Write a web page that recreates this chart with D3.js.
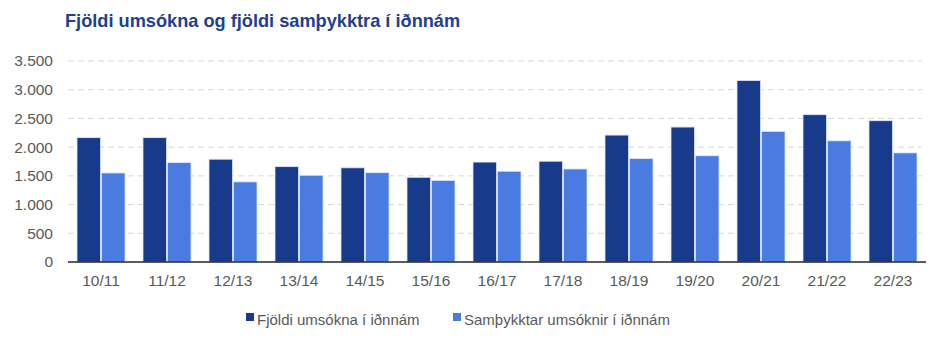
<!DOCTYPE html>
<html>
<head>
<meta charset="utf-8">
<script src="https://cdn.jsdelivr.net/npm/d3@7"></script>
<style>
  body { margin: 0; background: #fff; }
  svg { display: block; font-family: "Liberation Sans", Arial, sans-serif; }
</style>
</head>
<body>
<svg id="chart" width="949" height="346"></svg>
<script>
const categories = ['10/11', '11/12', '12/13', '13/14', '14/15', '15/16', '16/17', '17/18', '18/19', '19/20', '20/21', '21/22', '22/23'];
const applications = [2165, 2165, 1790, 1660, 1640, 1475, 1740, 1755, 2210, 2350, 3160, 2565, 2460];
const approved = [1550, 1730, 1395, 1510, 1555, 1420, 1580, 1620, 1800, 1850, 2275, 2110, 1900];
const yTicks = [0, 500, 1000, 1500, 2000, 2500, 3000, 3500];
const seriesNames = ['Fjöldi umsókna í iðnnám', 'Samþykktar umsóknir í iðnnám'];
const seriesColors = ['#173a8b', '#4a7be1'];

const svg = d3.select('#chart');
const margin = { top: 61, right: 23, bottom: 84, left: 68 };
const width = +svg.attr('width') - margin.left - margin.right;
const height = +svg.attr('height') - margin.top - margin.bottom;

// title
svg.append('text')
  .attr('x', 65)
  .attr('y', 27)
  .attr('fill', '#1f3f92')
  .style('font-size', '18.2px')
  .style('font-weight', 'bold')
  .text('Fjöldi umsókna og fjöldi samþykktra í iðnnám');

const plot = svg.append('g')
  .attr('transform', `translate(${[margin.left, margin.top]})`);

const x = d3.scaleBand().domain(categories).range([0, width]).paddingInner(0).paddingOuter(0);
const xInner = d3.scaleBand().domain([0, 1]).range([9, x.bandwidth() - 9]).paddingInner(0.04);
const y = d3.scaleLinear().domain([0, 3500]).range([height, 0]);

// gridlines
plot.append('g')
  .selectAll('line')
  .data(yTicks.filter(d => d > 0))
  .enter()
  .append('line')
  .attr('x1', 0)
  .attr('x2', width - 4)
  .attr('y1', d => y(d))
  .attr('y2', d => y(d))
  .attr('stroke', '#d9d9d9')
  .attr('stroke-width', 1)
  .attr('stroke-dasharray', '6,4');

// y axis labels
plot.append('g')
  .selectAll('text')
  .data(yTicks)
  .enter()
  .append('text')
  .attr('x', -15)
  .attr('y', d => y(d))
  .attr('dy', '0.35em')
  .attr('text-anchor', 'end')
  .attr('fill', '#595959')
  .style('font-size', '15.5px')
  .text(d => d3.format(',')(d).replace(/,/g, '.'));

// bars
const rows = categories.map((c, i) => ({ cat: c, values: [applications[i], approved[i]] }));
const groups = plot.selectAll('.grp')
  .data(rows)
  .enter()
  .append('g')
  .attr('class', 'grp')
  .attr('transform', d => `translate(${x(d.cat)},0)`);

groups.selectAll('rect')
  .data(d => d.values.map((v, k) => ({ k, v })))
  .enter()
  .append('rect')
  .attr('x', d => xInner(d.k))
  .attr('width', xInner.bandwidth())
  .attr('y', d => y(d.v))
  .attr('height', d => y(0) - y(d.v))
  .attr('fill', d => seriesColors[d.k])
  .attr('stroke', '#dfe6f5')
  .attr('stroke-width', 0.8);

// x axis line
plot.append('line')
  .attr('x1', 0)
  .attr('x2', width)
  .attr('y1', y(0))
  .attr('y2', y(0))
  .attr('stroke', '#262626')
  .attr('stroke-width', 1.3);

// x labels
plot.append('g')
  .selectAll('text')
  .data(categories)
  .enter()
  .append('text')
  .attr('x', d => x(d) + x.bandwidth() / 2)
  .attr('y', height + 24)
  .attr('text-anchor', 'middle')
  .attr('fill', '#595959')
  .style('font-size', '15.5px')
  .text(d => d);

// legend
const legend = svg.append('g').attr('transform', 'translate(246,320)');
const legendX = [0, 207];
seriesNames.forEach((name, i) => {
  const item = legend.append('g').attr('transform', `translate(${legendX[i]},0)`);
  item.append('rect')
    .attr('x', 0)
    .attr('y', -7)
    .attr('width', 8)
    .attr('height', 8)
    .attr('fill', seriesColors[i]);
  item.append('text')
    .attr('x', 11)
    .attr('y', 0)
    .attr('dy', '0.35em')
    .attr('fill', '#595959')
    .style('font-size', '15px')
    .text(name);
});
</script>
</body>
</html>
